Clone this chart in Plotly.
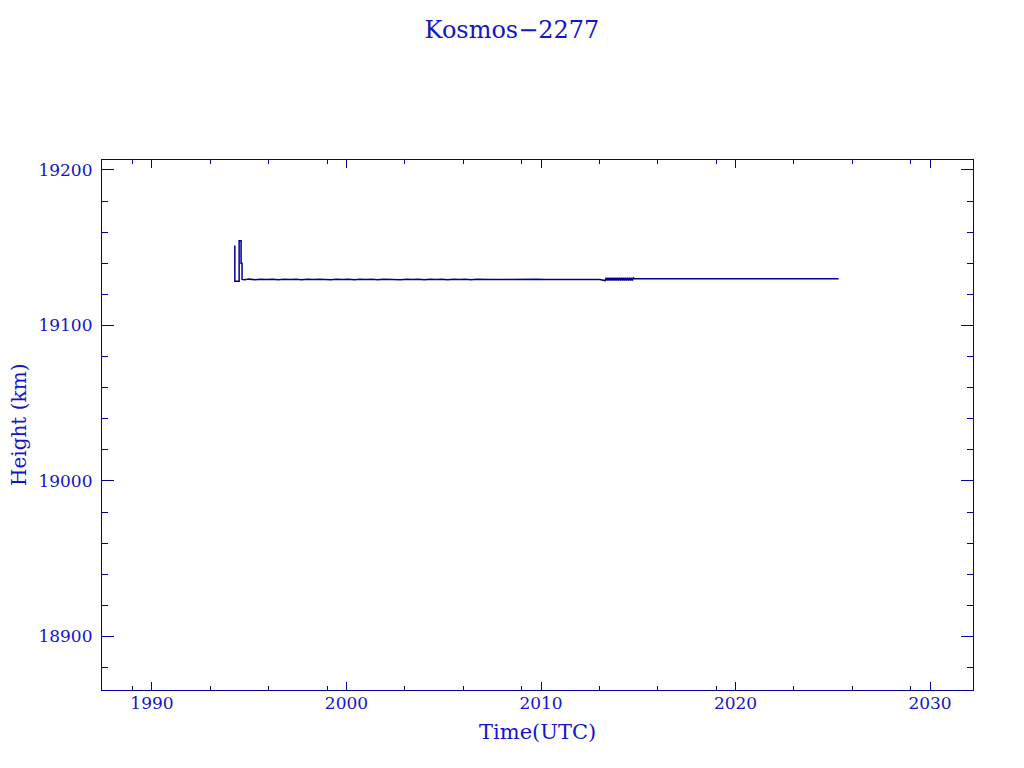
import plotly.graph_objects as go

# ---- data (decimal year, height km) ----
launch_t = [1994.26, 1994.26, 1994.48, 1994.48, 1994.58, 1994.58, 1994.63, 1994.63]
launch_h = [19151.5, 19128.4, 19128.4, 19154.5, 19154.5, 19140.0, 19140.0, 19129.6]

drift_t = [1994.75, 1995.0, 1995.3, 1995.6, 1995.9, 1996.2, 1996.5, 1996.8, 1997.1, 1997.4,
           1997.7, 1998.0, 1998.3, 1998.6, 1998.9, 1999.2, 1999.5, 1999.8, 2000.1, 2000.4,
           2000.7, 2001.0, 2001.3, 2001.6, 2001.9, 2002.2, 2002.5, 2002.8, 2003.1, 2003.4,
           2003.7, 2004.0, 2004.3, 2004.6, 2004.9, 2005.2, 2005.5, 2005.8, 2006.1, 2006.4,
           2006.7, 2007.0, 2007.4, 2007.8, 2008.2, 2008.6, 2009.0, 2009.4, 2009.8, 2010.2,
           2010.6, 2011.0, 2011.4, 2011.8, 2012.2, 2012.6, 2013.0]
drift_h = [19129.4, 19129.8, 19129.4, 19129.8, 19129.5, 19129.8, 19129.4, 19129.8, 19129.5, 19129.8,
           19129.4, 19129.8, 19129.5, 19129.8, 19129.6, 19129.4, 19129.8, 19129.5, 19129.8, 19129.4,
           19129.8, 19129.5, 19129.8, 19129.4, 19129.8, 19129.6, 19129.8, 19129.4, 19129.8, 19129.5,
           19129.8, 19129.4, 19129.8, 19129.5, 19129.8, 19129.4, 19129.8, 19129.5, 19129.8, 19129.4,
           19129.7, 19129.5, 19129.6, 19129.5, 19129.6, 19129.5, 19129.6, 19129.5, 19129.7, 19129.5,
           19129.6, 19129.5, 19129.7, 19129.5, 19129.6, 19129.5, 19129.6]

band_t = [2013.30, 2013.35, 2013.40, 2013.45, 2013.50, 2013.55, 2013.60, 2013.65, 2013.70, 2013.75,
          2013.80, 2013.85, 2013.90, 2013.95, 2014.00, 2014.05, 2014.10, 2014.15, 2014.20, 2014.25,
          2014.30, 2014.35, 2014.40, 2014.45, 2014.50, 2014.55, 2014.60, 2014.65, 2014.70, 2014.75,
          2014.80]
band_h = [19128.9, 19130.6, 19128.9, 19130.6, 19128.9, 19130.6, 19128.9, 19130.6, 19128.9, 19130.6,
          19128.9, 19130.6, 19128.9, 19130.6, 19128.9, 19130.6, 19128.9, 19130.6, 19128.9, 19130.6,
          19128.9, 19130.6, 19128.9, 19130.6, 19128.9, 19130.6, 19128.9, 19130.6, 19128.9, 19130.6,
          19130.1]

late_t = [2015.5, 2018.0, 2021.0, 2023.5, 2025.3]
late_h = [19130.1, 19130.1, 19130.1, 19130.1, 19130.1]

x_ticks = [1990, 2000, 2010, 2020, 2030]
x_minor = [1989, 1993, 1996, 1999, 2003, 2006, 2009, 2013, 2016, 2019, 2023, 2026, 2029]
y_ticks = [18900, 19000, 19100, 19200]

t_all = launch_t + drift_t + band_t + late_t
h_all = launch_h + drift_h + band_h + late_h

AX = "#0000a0"
TX = "#1414c8"
FONT = "DejaVu Serif"

fig = go.Figure()
fig.add_trace(go.Scatter(x=t_all, y=h_all, mode="lines",
                         line=dict(color="#00008c", width=1.5), showlegend=False))

fig.update_layout(
    width=1024, height=768,
    margin=dict(l=94, r=59, t=152, b=86, autoexpand=False),
    paper_bgcolor="white", plot_bgcolor="white",
    font=dict(family=FONT, color=TX),
    title=dict(text="Kosmos\u22122277", x=504 / 1024, xref="container", xanchor="center",
               y=1 - 22 / 768, yref="container", yanchor="middle",
               font=dict(family=FONT, size=24, color=TX)),
    annotations=[
        dict(text="Time(UTC)", x=0.5, y=0, xref="paper", yref="paper",
             xanchor="center", yanchor="middle", yshift=-42, showarrow=False,
             font=dict(family=FONT, size=21, color=TX)),
        dict(text="Height (km)", x=0, y=0.5, xref="paper", yref="paper",
             xanchor="center", yanchor="middle", xshift=-83, textangle=-90,
             showarrow=False, font=dict(family=FONT, size=20, color=TX)),
    ],
)

fig.update_xaxes(
    range=[1987.43, 2032.21], showgrid=False, zeroline=False,
    showline=True, linecolor=AX, linewidth=1.2, mirror="ticks",
    ticks="inside", ticklen=8, tickwidth=1.2, tickcolor=AX,
    tickmode="array", tickvals=x_ticks, ticktext=[str(v) for v in x_ticks],
    tickfont=dict(family=FONT, size=17, color=TX), ticklabelstandoff=-3,
    minor=dict(ticks="inside", ticklen=4, tickwidth=1.2, tickcolor=AX,
               tickmode="array", tickvals=x_minor, showgrid=False),
)
fig.update_yaxes(
    range=[18865.6, 19206.4], showgrid=False, zeroline=False,
    showline=True, linecolor=AX, linewidth=1.2, mirror="ticks",
    ticks="inside", ticklen=12, tickwidth=1.2, tickcolor=AX,
    tickmode="array", tickvals=y_ticks, ticktext=[str(v) for v in y_ticks],
    tickfont=dict(family=FONT, size=17, color=TX), ticklabelstandoff=5,
    minor=dict(ticks="inside", ticklen=6, tickwidth=1.2, tickcolor=AX,
               dtick=20, tick0=18900, showgrid=False),
)

fig.write_html("out.html")
